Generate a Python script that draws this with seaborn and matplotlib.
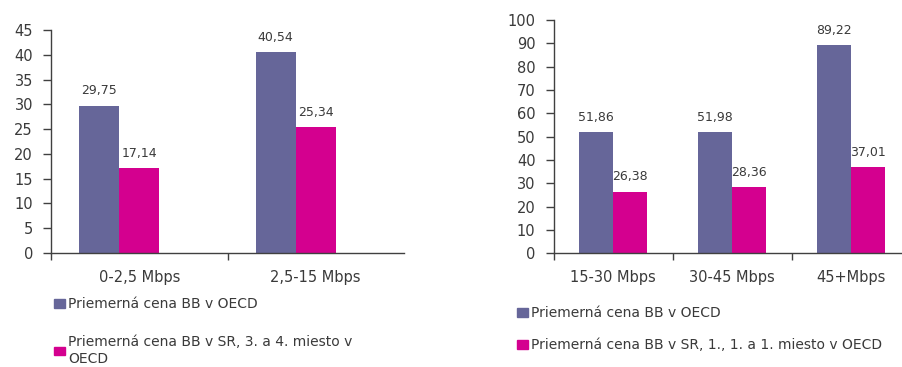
import matplotlib
matplotlib.use("Agg")
import matplotlib.pyplot as plt
import seaborn as sns
import pandas as pd
from matplotlib.patches import Patch

# ---- data ----
left_categories = ["0-2,5 Mbps", "2,5-15 Mbps"]
left_oecd = [29.75, 40.54]
left_sr = [17.14, 25.34]
left_series = ["Priemerná cena BB v OECD",
               "Priemerná cena BB v SR, 3. a 4. miesto v\nOECD"]

right_categories = ["15-30 Mbps", "30-45 Mbps", "45+Mbps"]
right_oecd = [51.86, 51.98, 89.22]
right_sr = [26.38, 28.36, 37.01]
right_series = ["Priemerná cena BB v OECD",
                "Priemerná cena BB v SR, 1., 1. a 1. miesto v OECD"]

left_yticks = [0, 5, 10, 15, 20, 25, 30, 35, 40, 45]
right_yticks = [0, 10, 20, 30, 40, 50, 60, 70, 80, 90, 100]

PURPLE = "#666699"
PINK = "#D4008F"
TEXT = "#3a3a3a"
AX = "#404040"

sns.set_theme(style="white")
plt.rcParams["font.family"] = ["DejaVu Sans"]

fig = plt.figure(figsize=(9.02, 3.67), dpi=100)

def make_df(cats, a, b, names):
    rows = []
    for c, v in zip(cats, a):
        rows.append({"cat": c, "series": names[0], "value": v})
    for c, v in zip(cats, b):
        rows.append({"cat": c, "series": names[1], "value": v})
    return pd.DataFrame(rows)

def style_axes(ax, cats, ymax, yticks):
    ax.set_ylim(0, ymax)
    ax.set_xlim(-0.5, len(cats) - 0.5)
    ax.set_yticks(yticks)
    ax.set_yticklabels([str(t) for t in yticks], fontsize=10.5, color=TEXT)
    ax.set_xticks(range(len(cats)))
    ax.set_xticklabels(cats, fontsize=10.5, color=TEXT)
    ax.set_xticks([i - 0.5 for i in range(len(cats))], minor=True)
    ax.tick_params(axis="x", which="major", length=0, pad=12)
    ax.tick_params(axis="x", which="minor", length=5, width=1, color=AX, direction="out", bottom=True)
    ax.tick_params(axis="y", length=6, width=1, color=AX, direction="out", pad=7, left=True)
    ax.set_xlabel("")
    ax.set_ylabel("")
    for s in ["top", "right"]:
        ax.spines[s].set_visible(False)
    for s in ["left", "bottom"]:
        ax.spines[s].set_color(AX)
        ax.spines[s].set_linewidth(1)
    for c in ax.containers:
        labels = [f"{v:.2f}".replace(".", ",") for v in c.datavalues]
        ax.bar_label(c, labels=labels, padding=6, fontsize=9, color=TEXT)

# ---- left chart ----
axL = fig.add_axes([51 / 902, 114 / 367, 353 / 902, 223 / 367])
dfL = make_df(left_categories, left_oecd, left_sr, left_series)
sns.barplot(data=dfL, x="cat", y="value", hue="series",
            hue_order=left_series + [" "],
            palette=[PURPLE, PINK, "#ffffff"], width=0.68, saturation=1,
            linewidth=0, legend=False, ax=axL)
style_axes(axL, left_categories, 45, left_yticks)
legL = axL.legend(handles=[Patch(color=PURPLE), Patch(color=PINK)], labels=left_series,
                  loc="upper left", bbox_to_anchor=(54 / 902, 1 - 297 / 367),
                  bbox_transform=fig.transFigure, frameon=False, fontsize=10,
                  handlelength=0.8, handleheight=0.6, handletextpad=0.2,
                  borderpad=0, borderaxespad=0, labelspacing=1.75, labelcolor=TEXT)
legL.get_texts()[1].set_linespacing(1.2)

# ---- right chart ----
axR = fig.add_axes([553.5 / 902, 113.7 / 367, 357 / 902, 233.3 / 367])
dfR = make_df(right_categories, right_oecd, right_sr, right_series)
sns.barplot(data=dfR, x="cat", y="value", hue="series", hue_order=right_series,
            palette=[PURPLE, PINK], width=0.57, saturation=1,
            linewidth=0, legend=False, ax=axR)
style_axes(axR, right_categories, 100, right_yticks)
axR.legend(handles=[Patch(color=PURPLE), Patch(color=PINK)], labels=right_series,
           loc="upper left", bbox_to_anchor=(517 / 902, 1 - 306 / 367),
           bbox_transform=fig.transFigure, frameon=False, fontsize=10,
           handlelength=0.8, handleheight=0.6, handletextpad=0.2,
           borderpad=0, borderaxespad=0, labelspacing=1.3, labelcolor=TEXT)

fig.savefig("out.png", dpi=100)
